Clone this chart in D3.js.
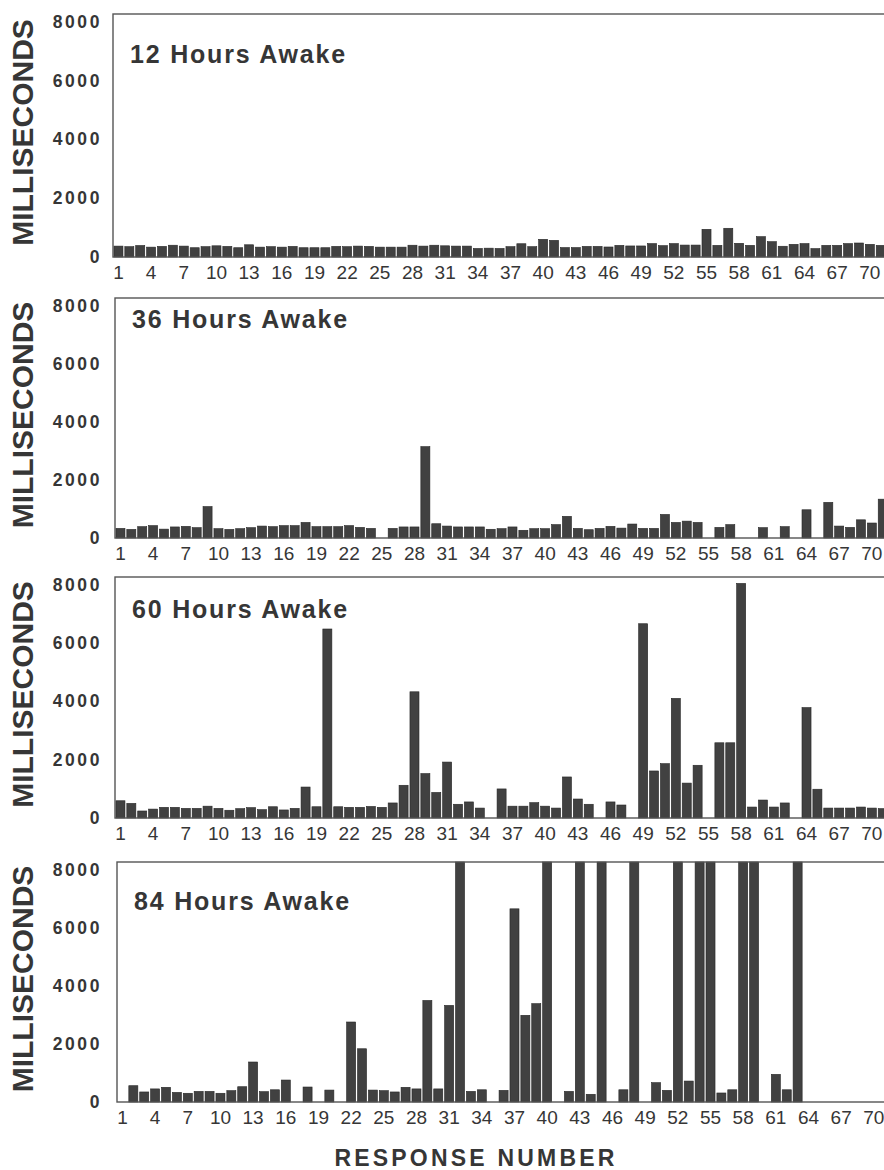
<!DOCTYPE html>
<html>
<head>
<meta charset="utf-8">
<script src="https://cdn.jsdelivr.net/npm/d3@7"></script>
<style>
  body { margin: 0; background: #fff; }
  svg { display: block; font-family: "Liberation Sans", Arial, sans-serif; }
</style>
</head>
<body>
<svg id="chart" width="884" height="1170"></svg>
<script>
// response slots 1..71 (chart is cropped at the right edge)
const responses = d3.range(1, 72);
const tickLabels = [1, 4, 7, 10, 13, 16, 19, 22, 25, 28, 31, 34, 37, 40, 43, 46, 49, 52, 55, 58, 61, 64, 67, 70];
const yTicks = [0, 2000, 4000, 6000, 8000];
const titles = ["12 Hours Awake", "36 Hours Awake", "60 Hours Awake", "84 Hours Awake"];

// reaction times in ms, null = no response drawn, 8250 = off the top of the scale
const awake12 = [
  370, 350, 390, 335, 360, 400, 370, 315, 350, 380, 360, 315, 415, 335, 350, 335, 360, 315, 315, 315,
  360, 350, 370, 360, 335, 335, 335, 400, 370, 400, 380, 370, 370, 290, 300, 290, 350, 450, 350, 600,
  565, 320, 320, 360, 360, 340, 395, 375, 375, 455, 385, 455, 405, 405, 940, 395, 975, 465, 395, 690,
  520, 365, 430, 455, 285, 395, 395, 455, 475, 430, 395
];
const awake36 = [
  330, 295, 390, 425, 305, 380, 400, 355, 1080, 320, 295, 320, 355, 410, 390, 425, 425, 535, 390, 390,
  390, 425, 365, 330, null, 330, 380, 380, 3140, 490, 410, 380, 380, 380, 300, 320, 380, 265, 320, 320,
  460, 745, 330, 285, 330, 400, 340, 480, 330, 330, 810, 535, 580, 535, null, 365, 460, null, null, 355,
  null, 390, null, 970, null, 1225, 410, 365, 625, 515, 1335
];
const awake60 = [
  590, 500, 240, 305, 365, 365, 330, 330, 405, 330, 265, 320, 355, 285, 385, 275, 330, 1060, 385, 6470,
  385, 365, 365, 395, 365, 515, 1120, 4320, 1520, 875, 1915, 470, 550, 340, null, 995, 405, 405, 525, 405,
  340, 1405, 650, 470, null, 550, 445, null, 6650, 1610, 1860, 4095, 1195, 1805, null, 2575, 2575, 8030, 375, 615,
  375, 515, null, 3780, 985, 340, 340, 340, 375, 340, 320
];
const awake84 = [
  null, 560, 345, 450, 505, 330, 300, 365, 365, 300, 390, 525, 1375, 355, 420, 755, null, 515, null, 410,
  null, 2750, 1830, 410, 390, 345, 505, 450, 3490, 450, 3320, 8250, 365, 420, null, 400, 6640, 2980, 3380, 8250,
  null, 365, 8250, 265, 8250, null, 420, 8250, null, 665, 400, 8250, 720, 8250, 8250, 310, 420, 8250, 8250, null,
  950, 420, 8250, null, null, null, null, null, null, null, null
];

const series = [awake12, awake36, awake60, awake84];

// panel frames as they sit on the scanned page
const frameTop = [14, 298, 577, 862];
const frameBottom = [257, 538, 818, 1102];
const frameLeft = [113, 115, 115, 117];
const titleDrop = [49, 30, 41, 48];

const step = 10.89;
const plotWidth = step * responses.length;
const ink = "#363636";

const svg = d3.select("#chart");

series.forEach((values, i) => {
  const top = frameTop[i];
  const bottom = frameBottom[i];
  const left = frameLeft[i];

  const x = d3.scaleBand()
    .domain(responses)
    .range([left, left + plotWidth])
    .paddingInner(0.17)
    .paddingOuter(0.085);

  const y = d3.scaleLinear()
    .domain([0, 8250])
    .range([bottom, top])
    .clamp(true);

  const g = svg.append("g").attr("class", "panel");

  const rows = responses.map((r, k) => ({ r, v: values[k] })).filter((d) => d.v != null);

  g.selectAll("rect.bar")
    .data(rows)
    .enter()
    .append("rect")
    .attr("class", "bar")
    .attr("x", (d) => x(d.r))
    .attr("width", x.bandwidth())
    .attr("y", (d) => y(d.v))
    .attr("height", (d) => bottom - y(d.v))
    .attr("fill", "#414141")
    .attr("stroke", "#262626")
    .attr("stroke-width", 0.6);

  g.append("rect")
    .attr("x", left)
    .attr("y", top)
    .attr("width", plotWidth)
    .attr("height", bottom - top)
    .attr("fill", "none")
    .attr("stroke", "#555")
    .attr("stroke-width", 1.4);

  g.append("text")
    .attr("x", left + 17)
    .attr("y", top + titleDrop[i])
    .attr("fill", ink)
    .attr("font-size", 25)
    .attr("font-weight", "bold")
    .attr("letter-spacing", "1.8px")
    .text(titles[i]);

  g.selectAll("text.ytick")
    .data(yTicks)
    .enter()
    .append("text")
    .attr("class", "ytick")
    .attr("x", 102)
    .attr("y", (d) => y(d))
    .attr("dy", "0.36em")
    .attr("text-anchor", "end")
    .attr("fill", ink)
    .attr("font-size", 17.5)
    .attr("font-weight", "bold")
    .attr("letter-spacing", "2.6px")
    .text((d) => d);

  g.selectAll("text.xtick")
    .data(tickLabels)
    .enter()
    .append("text")
    .attr("class", "xtick")
    .attr("x", (d) => x(d) + x.bandwidth() / 2)
    .attr("y", bottom + 22)
    .attr("text-anchor", "middle")
    .attr("fill", ink)
    .attr("font-size", 19)
    .text((d) => d);

  g.append("text")
    .attr("transform", `translate(33,${(top + bottom) / 2 - 3}) rotate(-90)`)
    .attr("text-anchor", "middle")
    .attr("fill", ink)
    .attr("font-size", 30)
    .attr("font-weight", "bold")
    .text("MILLISECONDS");
});

svg.append("text")
  .attr("x", 476)
  .attr("y", 1166)
  .attr("text-anchor", "middle")
  .attr("fill", ink)
  .attr("font-size", 23)
  .attr("font-weight", "bold")
  .attr("letter-spacing", "3.2px")
  .text("RESPONSE NUMBER");
</script>
</body>
</html>
